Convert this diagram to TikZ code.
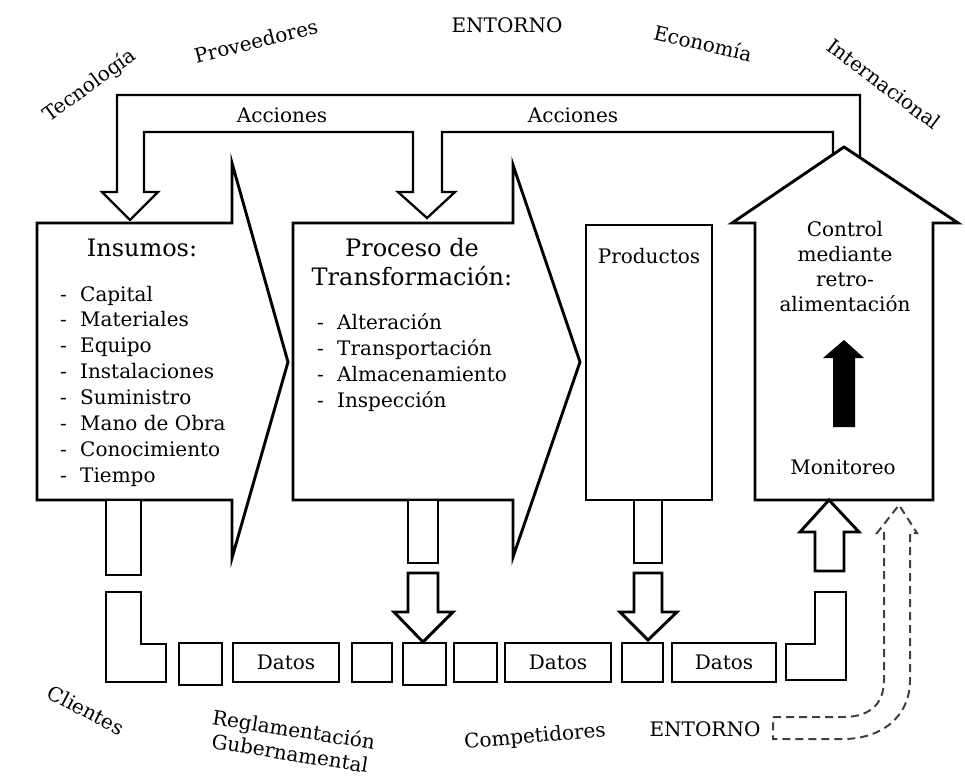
\documentclass[tikz,border=0pt]{standalone}
\usepackage{fontspec}
\setmainfont{DejaVu Serif}
\begin{document}
\begin{tikzpicture}[x=1pt,y=-1pt,
  blockline/.style={draw=black,line width=2.9pt,line join=miter,fill=white},
  flowline/.style={draw=black,line width=2.3pt,line join=miter},
  envline/.style={draw=black!75,line width=2pt,dash pattern=on 8pt off 5pt},
  txt/.style={inner sep=0pt,font=\fontsize{20}{24}\selectfont},
  head/.style={inner sep=0pt,font=\fontsize{24}{28}\selectfont},
  datbox/.style={blockline,inner sep=0pt,font=\fontsize{20}{24}\selectfont}]
\useasboundingbox (0,0) rectangle (965,776);

% actions feedback loop from control back to inputs and process
\draw[flowline] (860,158) -- (860,95) -- (117,95) -- (117,192) -- (102,192)
  -- (130,220) -- (158,192) -- (144,192) -- (144,132) -- (413,132) -- (413,192)
  -- (398,192) -- (427,218) -- (455,192) -- (442,192) -- (442,132) -- (833,132)
  -- (833,155);

% main blocks
\draw[blockline] (37,223) -- (232,223) -- (232,163) -- (288,362) -- (232,558)
  -- (232,500) -- (37,500) -- cycle;
\draw[blockline] (293,223) -- (513,223) -- (513,165) -- (580,362) -- (513,557)
  -- (513,500) -- (293,500) -- cycle;
\draw[blockline] (586,225) rectangle (712,500);
\draw[blockline] (755,500) -- (755,223) -- (732,223) -- (844,147) -- (958,223)
  -- (933,223) -- (933,500) -- cycle;
\fill[black] (833,427) -- (833,358) -- (823,358) -- (844,340) -- (864,358)
  -- (855,358) -- (855,427) -- cycle;

% data channel below the blocks
\draw[blockline] (106,500) rectangle (141,575);
\draw[blockline] (106,592) -- (141,592) -- (141,644) -- (166,644) -- (166,682)
  -- (106,682) -- cycle;
\draw[blockline] (179,643) rectangle (222,685);
\node[datbox,minimum width=106pt,minimum height=39pt] (datos1) at (286,662.5) {Datos};
\draw[blockline] (352,643) rectangle (392,682);
\draw[blockline] (403,643) rectangle (446,685);
\draw[blockline] (454,643) rectangle (497,682);
\node[datbox,minimum width=106pt,minimum height=39pt] (datos2) at (558,662.5) {Datos};
\draw[blockline] (622,643) rectangle (663,682);
\node[datbox,minimum width=104pt,minimum height=39pt] (datos3) at (724,662.5) {Datos};
\draw[blockline] (786,644) -- (815,644) -- (815,592) -- (846,592) -- (846,680)
  -- (786,680) -- cycle;

% taps into the data channel
\draw[blockline] (408,500) rectangle (438,563);
\draw[blockline] (408,573) -- (438,573) -- (438,612) -- (453,612) -- (423,642)
  -- (394,612) -- (408,612) -- cycle;
\draw[blockline] (634,500) rectangle (662,563);
\draw[blockline] (634,573) -- (662,573) -- (662,612) -- (677,612) -- (648,640)
  -- (620,612) -- (634,612) -- cycle;
\draw[blockline] (815,571) -- (815,532) -- (800,532) -- (829,500) -- (859,532)
  -- (844,532) -- (844,571) -- cycle;

% environment input (dashed)
\draw[envline] (773,717) -- (843,717) .. controls (872,717) and (884,702) .. (884,680)
  -- (884,533) -- (877,533) -- (899,505) -- (917,533) -- (910,533) -- (910,680)
  .. controls (910,718) and (880,739) .. (843,739) -- (773,739) -- cycle;

% environment labels
\node[txt] (entornoTop) at (507,25) {ENTORNO};
\node[txt,rotate=36] (tec) at (90,86) {Tecnología};
\node[txt,rotate=14] (prov) at (256,41) {Proveedores};
\node[txt,rotate=-13] (eco) at (703,43) {Economía};
\node[txt,rotate=-37] (inter) at (884,84) {Internacional};
\node[txt,rotate=-28] (cli) at (86,710) {Clientes};
\node[txt,rotate=-9,align=center] (regl) at (292,741) {Reglamentación\\Gubernamental};
\node[txt,rotate=5] (comp) at (535,737) {Competidores};
\node[txt] (entornoBot) at (705,729) {ENTORNO};
\node[txt] (acc1) at (282,115) {Acciones};
\node[txt] (acc2) at (573,115) {Acciones};

% block contents
\node[head,anchor=base] (insumos) at (142,256) {Insumos:};
\foreach \t [count=\i] in {Capital,Materiales,Equipo,Instalaciones,Suministro,Mano de Obra,Conocimiento,Tiempo}{
  \node[txt,anchor=base west] (insDash\i) at (60,301+25.9*\i-25.9) {-};
  \node[txt,anchor=base west] (ins\i) at (80,301+25.9*\i-25.9) {\t};
}
\node[head,anchor=base] (proc1) at (412,256) {Proceso de};
\node[head,anchor=base] (proc2) at (412,285) {Transformación:};
\foreach \t [count=\i] in {Alteración,Transportación,Almacenamiento,Inspección}{
  \node[txt,anchor=base west] (procDash\i) at (317,329+26.3*\i-26.3) {-};
  \node[txt,anchor=base west] (proc\i) at (337,329+26.3*\i-26.3) {\t};
}
\node[txt,anchor=base] (productos) at (649,263) {Productos};
\node[txt,anchor=base] (ctl1) at (845,236) {Control};
\node[txt,anchor=base] (ctl2) at (845,261) {mediante};
\node[txt,anchor=base] (ctl3) at (845,286) {retro-};
\node[txt,anchor=base] (ctl4) at (845,311) {alimentación};
\node[txt,anchor=base] (monitoreo) at (843,474) {Monitoreo};
\end{tikzpicture}
\end{document}
